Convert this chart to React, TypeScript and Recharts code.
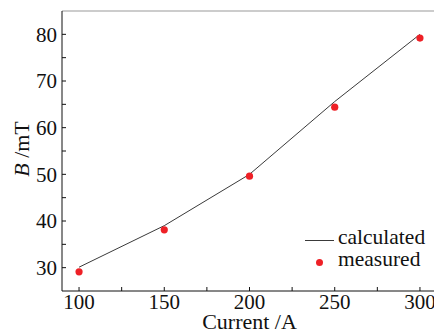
import { LineChart, Line, XAxis, YAxis, ReferenceLine } from "recharts";

const current = [100, 150, 200, 250, 300];
const calculated = [30.1, 39.0, 50.0, 65.6, 80.0];
const measured = [29.1, 38.1, 49.6, 64.4, 79.2];
const xTicks = [100, 125, 150, 175, 200, 225, 250, 275, 300];
const yTicks = [30, 35, 40, 45, 50, 55, 60, 65, 70, 75, 80];

const data = current.map((c, i) => ({ current: c, calculated: calculated[i], measured: measured[i] }));

const FONT = "'Liberation Serif', 'Times New Roman', serif";
const RED = "#ee2026";
const LINE = "#3a3a3a";

function XLabel({ viewBox }: any) {
  const { x, y, width } = viewBox;
  return (
    <text x={x + width / 2} y={y + 38} textAnchor="middle" fontFamily={FONT} fontSize={22} fill="#111">
      Current /A
    </text>
  );
}

function YLabel() {
  return (
    <text x={29} y={149} transform="rotate(-90, 29, 149)" textAnchor="middle" fontFamily={FONT} fontSize={22} fill="#111">
      <tspan fontStyle="italic">B</tspan> /mT
    </text>
  );
}

export default function App() {
  return (
    <div style={{ position: "absolute", left: 0, top: 0, width: 434, height: 333, overflow: "hidden", background: "#fff" }}>
      <LineChart width={440} height={333} data={data} margin={{ top: 11, right: 3, left: 0, bottom: 0 }}>
        <XAxis
          type="number"
          dataKey="current"
          domain={[90, 310]}
          ticks={xTicks}
          allowDataOverflow
          height={42}
          stroke="#111"
          tickSize={-4}
          tickMargin={7}
          tickFormatter={(v: number) => (v % 50 === 0 ? String(v) : "")}
          tick={{ fill: "#111", fontFamily: FONT, fontSize: 21 }}
          label={<XLabel />}
        />
        <YAxis
          type="number"
          domain={[25, 85]}
          ticks={yTicks}
          allowDataOverflow
          width={62}
          stroke="#111"
          tickSize={-4}
          tickMargin={9}
          tickFormatter={(v: number) => (v % 10 === 0 ? String(v) : "")}
          tick={{ fill: "#111", fontFamily: FONT, fontSize: 21 }}
          label={<YLabel />}
        />
        <ReferenceLine y={85} stroke="#999" strokeWidth={1} />
        <Line type="linear" dataKey="calculated" stroke={LINE} strokeWidth={1} dot={false} isAnimationActive={false} />
        <Line
          type="linear"
          dataKey="measured"
          stroke="none"
          dot={{ r: 3.6, fill: RED, stroke: "none" }}
          isAnimationActive={false}
        />
      </LineChart>
      <div style={{ position: "absolute", left: 305, top: 227, fontFamily: FONT, fontSize: 21.5, color: "#111", lineHeight: "21.5px" }}>
        <div style={{ display: "flex", alignItems: "center", whiteSpace: "nowrap" }}>
          <span style={{ display: "inline-block", width: 29, height: 1, background: LINE, marginRight: 4, marginTop: 6 }} />
          <span>calculated</span>
        </div>
        <div style={{ display: "flex", alignItems: "center", whiteSpace: "nowrap" }}>
          <span style={{ display: "inline-block", width: 29, textAlign: "center", marginRight: 4 }}>
            <span style={{ display: "inline-block", width: 7, height: 7, borderRadius: "50%", background: RED, marginTop: 8 }} />
          </span>
          <span>measured</span>
        </div>
      </div>
    </div>
  );
}
